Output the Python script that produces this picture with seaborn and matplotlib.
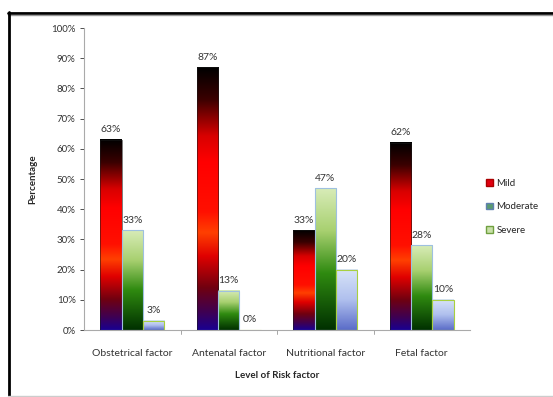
import numpy as np
import pandas as pd
import seaborn as sns
import matplotlib
matplotlib.use("Agg")
import matplotlib.pyplot as plt
from matplotlib.colors import LinearSegmentedColormap
from matplotlib.lines import Line2D
from matplotlib.patches import Patch

# Percentages by risk-factor group and severity level
categories = ["Obstetrical factor", "Antenatal factor", "Nutritional factor", "Fetal factor"]
levels = ["Mild", "Moderate", "Severe"]
mild = [63, 87, 33, 62]
moderate = [33, 13, 47, 28]
severe = [3, 0, 20, 10]

df = pd.DataFrame({
    "factor": categories * 3,
    "level": [lv for lv in levels for _ in categories],
    "pct": mild + moderate + severe,
})

sns.set_theme(style="white")
plt.rcParams["font.family"] = ["Lato", "DejaVu Sans"]

fig = plt.figure(figsize=(5.53, 3.97), dpi=100)
ax = fig.add_axes([84 / 553, 1 - 330 / 397, (470 - 84) / 553, (330 - 28) / 397])

sns.barplot(data=df, x="factor", y="pct", hue="level", order=categories,
            hue_order=levels, width=0.66, ax=ax, legend=False, saturation=1)

# Vertical gradient fills (top colour first)
cmaps = {
    "Mild": LinearSegmentedColormap.from_list("mild", [
        (0.00, "#000000"), (0.12, "#3a0000"), (0.26, "#d80000"), (0.36, "#ff0000"),
        (0.55, "#ff1000"), (0.63, "#ff4000"), (0.72, "#e00000"), (0.84, "#700010"),
        (0.93, "#400050"), (1.00, "#1a0090")]),
    "Moderate": LinearSegmentedColormap.from_list("moderate", [
        (0.0, "#d8ecb8"), (0.3, "#a8d070"), (0.6, "#2f8a10"), (1.0, "#003000")]),
    "Severe": LinearSegmentedColormap.from_list("severe", [
        (0.0, "#d8e4f8"), (0.5, "#b0c0ee"), (1.0, "#5a6cc8")]),
}
edges = {"Mild": "#1a1a1a", "Moderate": "#9ec0e0", "Severe": "#a8d040"}

grad = np.linspace(0, 1, 256).reshape(-1, 1)
for level, container in zip(levels, ax.containers):
    for bar in container:
        x0, y0 = bar.get_x(), bar.get_y()
        w, h = bar.get_width(), bar.get_height()
        if h > 0:
            ax.imshow(grad, cmap=cmaps[level], aspect="auto",
                      extent=[x0, x0 + w, y0, y0 + h], origin="upper", zorder=2)
        bar.set_facecolor("none")
        bar.set_edgecolor(edges[level])
        bar.set_linewidth(0.8 if level != "Mild" else 0.4)
        bar.set_zorder(3)
    ax.bar_label(container, labels=[f"{v:.0f}%" for v in container.datavalues],
                 padding=4, fontsize=7.5, color="#333333")

ax.set_xlim(-0.5, len(categories) - 0.5)
ax.set_ylim(0, 100)
ax.set_yticks(np.arange(0, 101, 10))
ax.set_yticklabels([f"{t}%" for t in range(0, 101, 10)])
ax.tick_params(axis="y", labelsize=7, colors="#333333", length=3, width=0.6, left=True, pad=3)
ax.tick_params(axis="x", labelsize=7.5, colors="#333333", length=0, pad=14)
for tx in np.arange(0.5, len(categories) - 0.5, 1):
    ax.plot([tx, tx], [0, -1.2], color="#999999", lw=0.6, clip_on=False)

for side in ["top", "right"]:
    ax.spines[side].set_visible(False)
ax.spines["left"].set_color("#aaaaaa")
ax.spines["bottom"].set_color("#aaaaaa")
ax.spines["left"].set_linewidth(0.8)
ax.spines["bottom"].set_linewidth(0.8)

ax.set_xlabel("Level of Risk factor", fontsize=7, fontweight="bold", labelpad=9)
ax.set_ylabel("Percentage", fontsize=7, fontweight="bold", labelpad=10)

handles = [Patch(facecolor=c, edgecolor=e) for c, e in
           [("#e00010", "#aa0000"), ("#5a9a70", "#6080b0"), ("#c8e0a8", "#70a040")]]
fig.legend(handles, levels, loc="upper left", bbox_to_anchor=(482 / 553, 1 - 175 / 397),
           frameon=False, fontsize=7, handlelength=0.7, handleheight=0.7,
           handletextpad=0.4, labelspacing=1.5, borderaxespad=0)

# Outer frame
fig.add_artist(Line2D([8 / 553, 1.0], [1 - 12.5 / 397] * 2, transform=fig.transFigure,
                      color="black", lw=2))
fig.add_artist(Line2D([8 / 553, 1.0], [1 - 15 / 397] * 2, transform=fig.transFigure,
                      color="#999999", lw=1))
fig.add_artist(Line2D([8.5 / 553] * 2, [1 - 12 / 397, 1 - 396 / 397], transform=fig.transFigure,
                      color="black", lw=2))
fig.add_artist(Line2D([8 / 553, 1.0], [1 - 395.5 / 397] * 2, transform=fig.transFigure,
                      color="#cccccc", lw=1))

fig.savefig("out.png", dpi=100, facecolor="white")
